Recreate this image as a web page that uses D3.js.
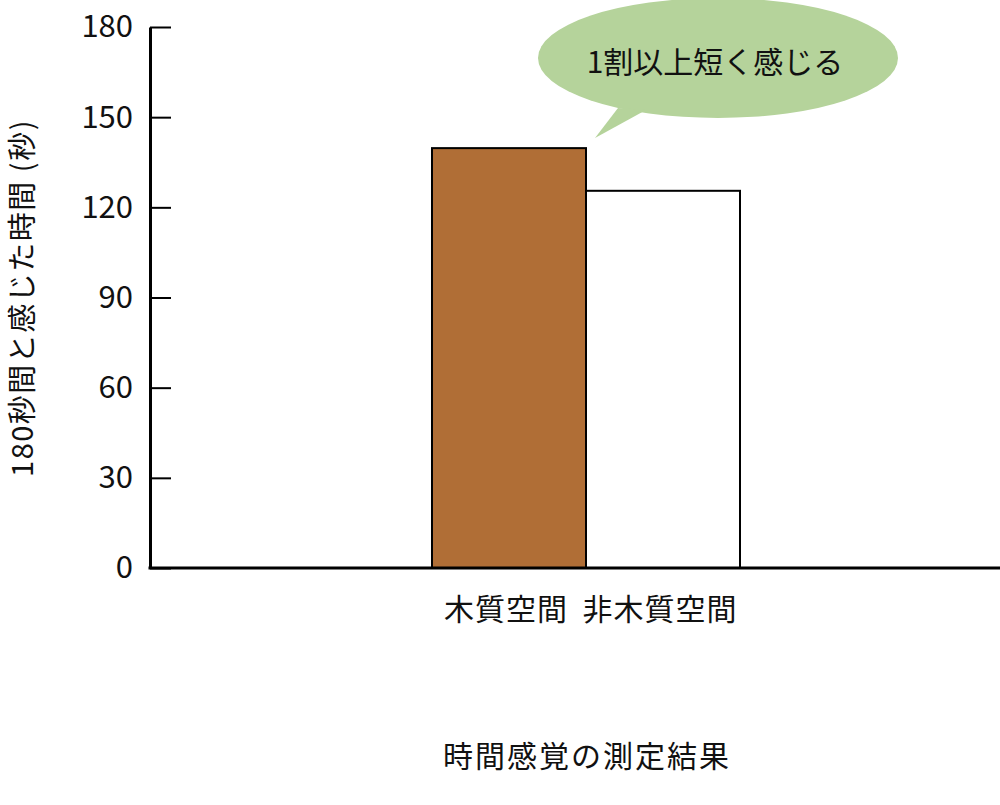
<!DOCTYPE html>
<html>
<head>
<meta charset="utf-8">
<script src="https://cdn.jsdelivr.net/npm/d3@7"></script>
<style>
  html, body { margin: 0; padding: 0; background: #fff; }
  svg { display: block; font-family: "Noto Sans CJK JP", "Noto Sans", sans-serif; }
</style>
</head>
<body>
<svg id="chart" width="1000" height="805"></svg>
<script>
// ---- data ----
const categories = ["木質空間", "非木質空間"];
const values = [139.7, 125.5];
const barColors = ["#b06e36", "#ffffff"];
const yTicks = [0, 30, 60, 90, 120, 150, 180];
const yTitle = "180秒間と感じた時間 (秒)";
const xTitle = "時間感覚の測定結果";
const calloutText = "1割以上短く感じる";

// ---- layout ----
const svg = d3.select("#chart");
const axisX = 150;
const y = d3.scaleLinear().domain([0, 180]).range([568, 27]);
const x = d3.scaleBand().domain(categories).range([432, 740]).padding(0);

// callout bubble (drawn first, behind bars)
const bubble = svg.append("g");
bubble.append("ellipse")
  .attr("cx", 718).attr("cy", 58).attr("rx", 180).attr("ry", 60)
  .attr("fill", "#b5d39b");
bubble.append("path")
  .attr("d", "M618,108 L595,138 L646,110 Z")
  .attr("fill", "#b5d39b");
bubble.append("text")
  .attr("x", 715).attr("y", 73)
  .attr("text-anchor", "middle")
  .attr("font-size", 30)
  .attr("fill", "#111")
  .text(calloutText);

// bars
svg.append("g").selectAll("rect")
  .data(categories)
  .join("rect")
  .attr("x", d => x(d))
  .attr("y", (d, i) => y(values[i]))
  .attr("width", x.bandwidth())
  .attr("height", (d, i) => y(0) - y(values[i]))
  .attr("fill", (d, i) => barColors[i])
  .attr("stroke", "#000")
  .attr("stroke-width", 2);

// y axis
const yAxis = d3.axisLeft(y)
  .tickValues(yTicks)
  .tickSizeInner(-21)
  .tickSizeOuter(0)
  .tickPadding(17);
const gy = svg.append("g")
  .attr("transform", `translate(${axisX},0)`)
  .call(yAxis);
gy.select(".domain").attr("stroke", "#000").attr("stroke-width", 3);
gy.selectAll(".tick line").attr("stroke", "#000").attr("stroke-width", 2);
gy.selectAll(".tick text")
  .attr("font-size", 31)
  .attr("font-family", "'Noto Sans CJK JP', 'Noto Sans', sans-serif")
  .attr("fill", "#111");

// baseline
svg.append("line")
  .attr("x1", axisX - 1.5).attr("x2", 1000)
  .attr("y1", y(0)).attr("y2", y(0))
  .attr("stroke", "#000").attr("stroke-width", 3);

// x category labels
svg.append("g").selectAll("text")
  .data(categories)
  .join("text")
  .attr("x", d => x(d) + x.bandwidth() / 2 - 3)
  .attr("y", 620)
  .attr("text-anchor", "middle")
  .attr("font-size", 30)
  .attr("letter-spacing", 1)
  .attr("fill", "#111")
  .text(d => d);

// x title
svg.append("text")
  .attr("x", 587).attr("y", 767)
  .attr("text-anchor", "middle")
  .attr("font-size", 30)
  .attr("letter-spacing", 2)
  .attr("fill", "#111")
  .text(xTitle);

// y title
svg.append("text")
  .attr("transform", "translate(33,298) rotate(-90)")
  .attr("text-anchor", "middle")
  .attr("font-size", 29)
  .attr("letter-spacing", 1.5)
  .attr("fill", "#111")
  .text(yTitle);
</script>
</body>
</html>
